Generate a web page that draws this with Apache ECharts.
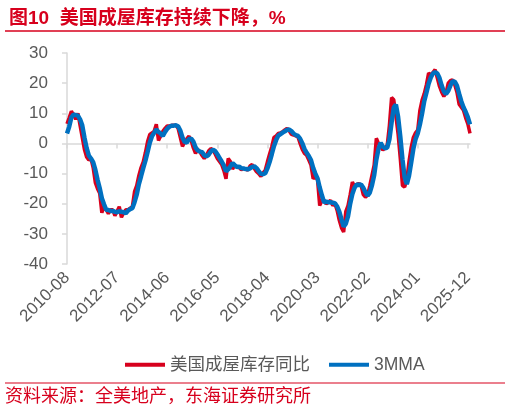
<!DOCTYPE html>
<html>
<head>
<meta charset="utf-8">
<script src="https://cdn.jsdelivr.net/npm/echarts@6/dist/echarts.min.js"></script>
<style>
  html, body { margin: 0; padding: 0; background: #fff; }
  #chart { width: 510px; height: 413px; }
</style>
</head>
<body>
<div id="chart"></div>
<script>
// 月份：2010-08 ~ 2026-01
var months = [];
(function () {
  var y = 2010, m = 8;
  for (var k = 0; k < 186; k++) {
    months.push(y + '-' + (m < 10 ? '0' + m : m));
    m++;
    if (m > 12) { m = 1; y++; }
  }
})();

// 美国成屋库存同比，%
var yoy = [
  6.5, 8.5, 10.7, 9.5, 8, 10, 6, 2, -2, -4.5, -5.5, -5,
  -8, -13, -15, -16.5, -23, -21, -22, -23.3, -22, -22, -24, -22.5,
  -21, -24.5, -23, -22, -22, -21.5, -21, -16, -14, -10.6, -8, -6.1,
  -3, 0.6, 3, 3.5, 4, 6.4, 1, 2.5, 4, 5, 5.8, 5.8,
  6, 6, 6, 5, 2, -1, 0.5, 1.5, 2.4, 1, -1.5, -3.3,
  -2, -2.8, -4, -5, -4, -2.5, -1.7, -2.2, -3.5, -5, -6, -7,
  -9, -11.7, -5, -6, -8.5, -7.2, -7.8, -8, -8.7, -8.3, -8.5, -8.9,
  -7.5, -7, -8.3, -9.4, -10, -10.9, -9.8, -8.9, -6.1, -3.5, -1.1, 2,
  2.5, 3.3, 3.5, 3.9, 4.5, 5, 4.2, 3, 2.8, 2.5, 2.2, 0,
  -2, -3.3, -3.9, -5.5, -7.2, -11.7, -11.1, -12, -20.6, -19, -18.9, -20,
  -19.5, -18.9, -20.6, -20, -22.2, -25.5, -28, -29.4, -22.5, -20.6, -17, -12.8,
  -14.4, -13.6, -13.3, -13.9, -17, -17.8, -17.2, -14, -10.6, -7.2, 1.7, 0,
  -1.1, -2.2, -1.5, -0.6, 6, 15.2, 14.5, 9, 3, -5, -14, -14.5,
  -12, -6, -1.3, 2, 3.5, 4.4, 11, 14.4, 16.5, 19.5, 23.3, 22.8,
  23.5, 24.5, 21.7, 18.9, 17, 15.6, 16.7, 20, 20.8, 21.1, 19.5, 17,
  13, 12, 11, 8.5, 6.5, 3.3
];

// 3MMA
var mma3 = [
  3.3, 5.5, 8.6, 9.6, 9.4, 9.2, 8, 6, 2, -1.5, -4, -5,
  -6.2, -8.7, -12, -14.8, -18.2, -20.2, -22, -22.1, -22.4, -22.4, -22.7, -22.8,
  -22.5, -22.7, -22.8, -23.2, -22.3, -21.8, -21.5, -19.5, -17, -13.5, -10.9, -8.2,
  -5.7, -2.8, 0.2, 2.4, 3.5, 4.6, 3.8, 3.3, 2.5, 3.8, 4.9, 5.5,
  5.9, 5.9, 6, 5.7, 4.3, 2, 0.5, 0.3, 1.5, 1.6, 0.6, -1.3,
  -2.3, -2.7, -2.9, -3.9, -4.3, -3.8, -2.7, -2.1, -2.5, -3.6, -4.8, -6,
  -7.3, -9.2, -8.6, -7.6, -6.5, -7.2, -7.8, -7.7, -8.2, -8.3, -8.5, -8.6,
  -8.3, -7.8, -7.6, -8.2, -9.2, -10.1, -10.2, -9.9, -8.3, -6.2, -3.6, -0.9,
  1.1, 2.6, 3.1, 3.6, 4, 4.5, 4.6, 4.1, 3.3, 2.8, 2.5, 1.6,
  0.1, -1.8, -3.1, -4.2, -5.5, -8.1, -10, -11.6, -14.6, -17.2, -19.5, -19.3,
  -19.5, -19.5, -19.7, -19.8, -20.9, -22.6, -25.2, -27.6, -26.6, -24.2, -20, -16.8,
  -14.7, -13.6, -13.8, -13.6, -14.7, -16.2, -17.3, -16.3, -13.9, -10.6, -5.4, -1.8,
  0.2, -1.1, -1.6, -1.4, 1.3, 6.9, 11.9, 12.9, 8.8, 2.3, -5.3, -11.2,
  -13.5, -10.8, -6.4, -1.8, 1.4, 3.3, 6.3, 9.9, 14, 16.8, 19.8, 21.9,
  23.2, 23.6, 23.2, 21.7, 19.2, 17.2, 16.4, 17.4, 19.2, 20.6, 20.5, 19.2,
  16.5, 14, 12, 10.5, 8.7, 6.3
];

var yTicks = { min: -40, max: 30, interval: 10 };

var RED = '#d7001d';
var BLUE = '#0070c0';
var GRAY = '#595959';
var AXIS = '#d9d9d9';
var FONT = "'Liberation Sans', 'Noto Sans CJK SC', sans-serif";

var chart = echarts.init(document.getElementById('chart'));

var option = {
  animation: false,
  backgroundColor: '#fff',
  title: {
    text: '图10  美国成屋库存持续下降，%',
    left: 4,
    top: 4,
    textStyle: { color: RED, fontSize: 19, fontWeight: 'bold', fontFamily: FONT }
  },
  graphic: [
    { type: 'line', shape: { x1: 5, y1: 31, x2: 505, y2: 31 }, style: { stroke: RED, lineWidth: 1.5 } },
    { type: 'line', shape: { x1: 5, y1: 383, x2: 505, y2: 383 }, style: { stroke: RED, lineWidth: 1.2 } },
    {
      type: 'text', left: 5, top: 388,
      style: { text: '资料来源：全美地产，东海证券研究所', fill: RED, fontSize: 18, fontFamily: FONT }
    }
  ],
  legend: {
    left: 120,
    top: 351,
    icon: 'rect',
    itemWidth: 40,
    itemHeight: 4,
    itemGap: 19,
    textStyle: { color: GRAY, fontSize: 17.5, fontFamily: FONT },
    data: ['美国成屋库存同比', '3MMA']
  },
  grid: { left: 67, right: 40, top: 53, bottom: 149 },
  xAxis: [
    {
      type: 'category',
      data: months,
      boundaryGap: false,
      position: 'bottom',
      axisLine: { show: false, onZero: false },
      axisTick: { show: false },
      splitLine: { show: false },
      axisLabel: {
        interval: 22,
        rotate: 45,
        margin: 11,
        color: GRAY,
        fontSize: 17,
        fontFamily: FONT
      }
    },
    {
      type: 'category',
      data: months,
      boundaryGap: false,
      position: 'bottom',
      axisLine: { show: true, onZero: true, lineStyle: { color: AXIS, width: 1.5 } },
      axisTick: { show: true, interval: 22, length: 5, lineStyle: { color: AXIS, width: 1.5 } },
      axisLabel: { show: false },
      splitLine: { show: false }
    }
  ],
  yAxis: {
    type: 'value',
    min: yTicks.min,
    max: yTicks.max,
    interval: yTicks.interval,
    axisLine: { show: true, lineStyle: { color: AXIS, width: 1.5 } },
    axisTick: { show: true, length: 5, lineStyle: { color: AXIS, width: 1.5 } },
    splitLine: { show: false },
    axisLabel: { color: GRAY, fontSize: 17, margin: 19, fontFamily: FONT }
  },
  series: [
    {
      name: '美国成屋库存同比',
      type: 'line',
      data: yoy,
      xAxisIndex: 0,
      symbol: 'none',
      lineStyle: { color: RED, width: 3.5 },
      itemStyle: { color: RED }
    },
    {
      name: '3MMA',
      type: 'line',
      data: mma3,
      xAxisIndex: 0,
      symbol: 'none',
      lineStyle: { color: BLUE, width: 4.5 },
      itemStyle: { color: BLUE }
    }
  ]
};

chart.setOption(option);
</script>
</body>
</html>
